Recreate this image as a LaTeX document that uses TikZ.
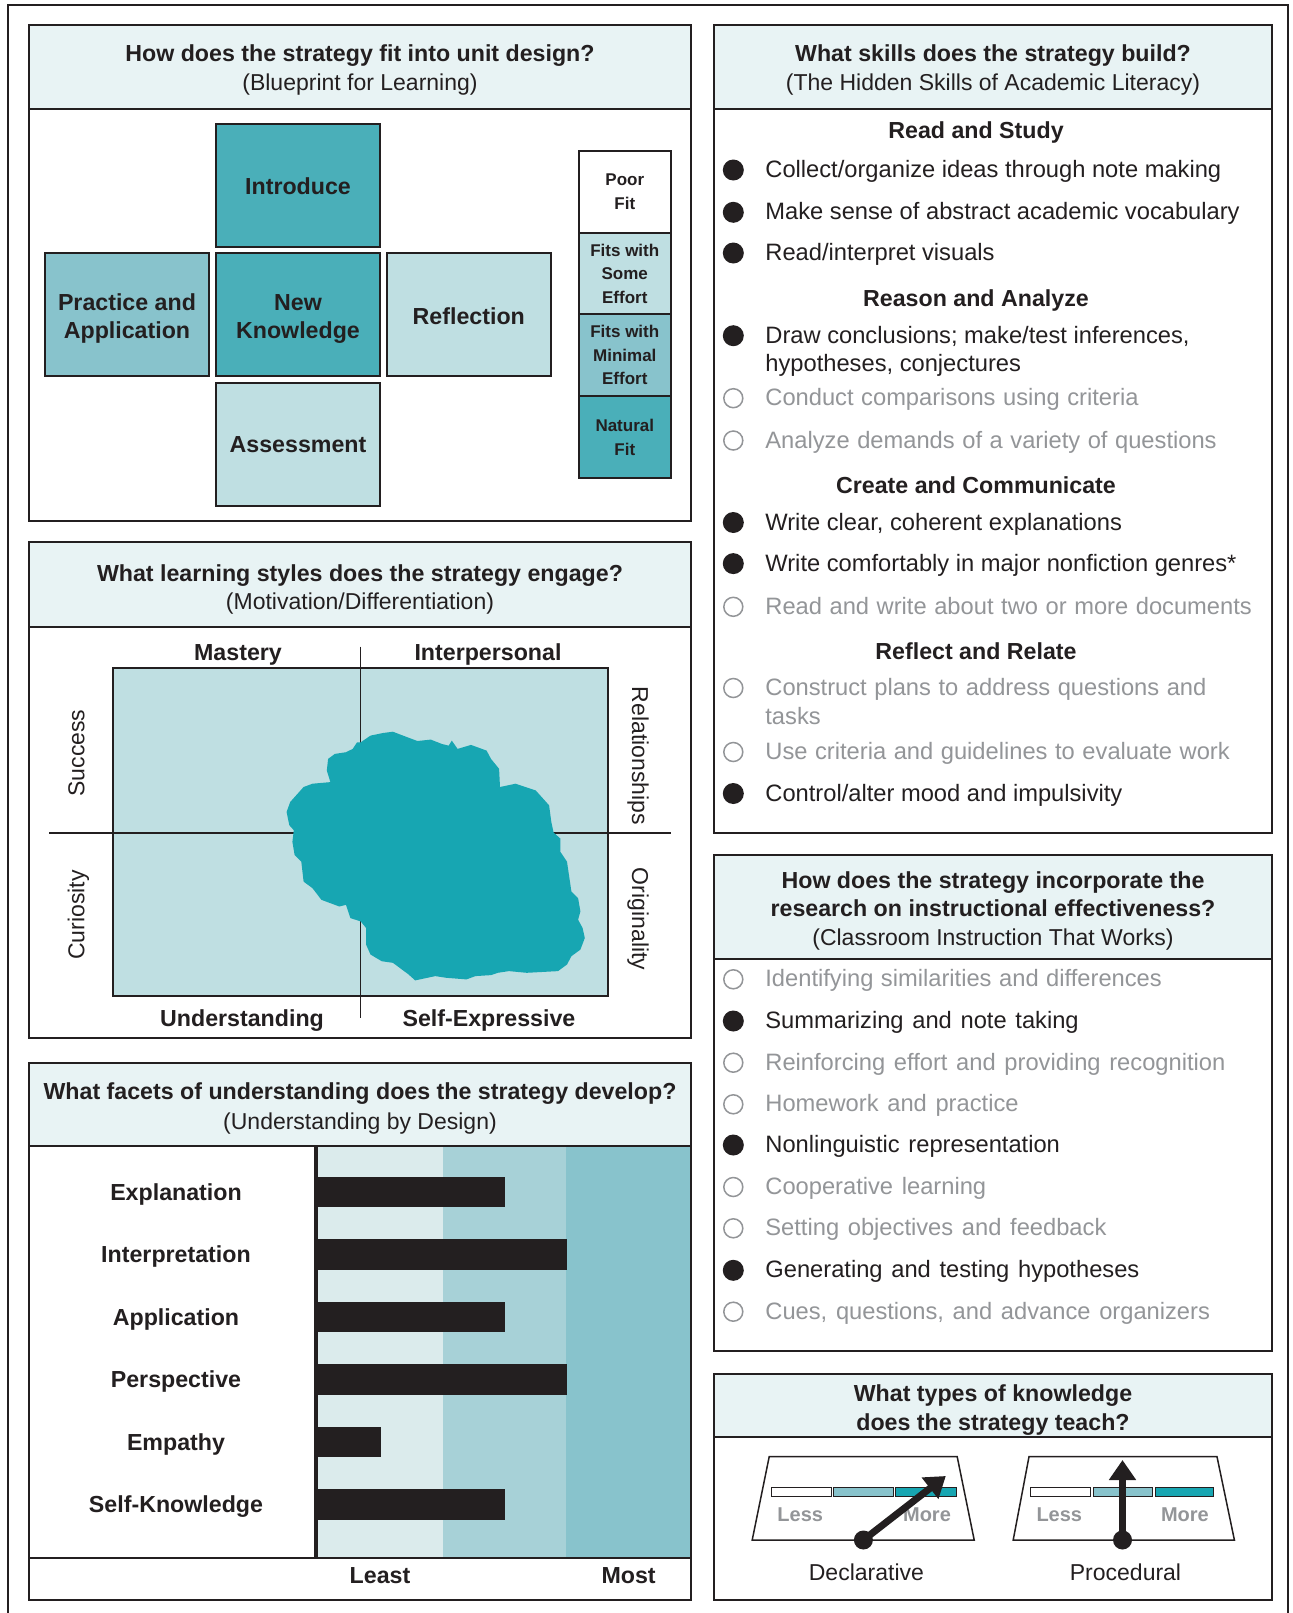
\documentclass[tikz,border=0pt]{standalone}
\usepackage{fontspec}
\setmainfont{Liberation Sans}
\newfontfamily\spacedfont[WordSpace=1.25]{Liberation Sans}
\newfontfamily\wideword[WordSpace=1.15]{Liberation Sans}
\usetikzlibrary{arrows.meta}
\definecolor{ink}{HTML}{231F20}
\definecolor{hdr}{HTML}{E8F3F4}
\definecolor{tealA}{HTML}{4AAFB9}
\definecolor{tealB}{HTML}{88C3CC}
\definecolor{tealC}{HTML}{BFDFE2}
\definecolor{blobc}{HTML}{17A6B2}
\definecolor{bandA}{HTML}{DBEBEC}
\definecolor{bandB}{HTML}{A7D1D7}
\definecolor{bandC}{HTML}{88C3CC}
\definecolor{greytx}{HTML}{939598}
\tikzset{
  panel/.style={draw=ink, line width=1pt},
  ttl/.style={font=\fontsize{11.6}{14.4}\selectfont\bfseries, text=ink, anchor=base, inner sep=0},
  sub/.style={font=\fontsize{11.5}{14.4}\selectfont, text=ink, anchor=base, inner sep=0},
  item/.style={font=\fontsize{11.85}{14.4}\selectfont, text=ink, anchor=base west, inner sep=0},
  witem/.style={font=\fontsize{11.85}{14.4}\wideword, text=ink, anchor=base west, inner sep=0},
  gitem/.style={font=\fontsize{11.85}{14.4}\spacedfont, text=greytx, anchor=base west, inner sep=0},
  onb/.style={circle, fill=ink, minimum size=10.5pt, inner sep=0},
  offb/.style={circle, draw=greytx, line width=0.75pt, minimum size=9.5pt, inner sep=0},
  bp/.style={draw=ink, line width=1pt, minimum width=82pt, minimum height=61.5pt, inner sep=0},
  bptext/.style={font=\fontsize{11.6}{14.4}\selectfont\bfseries, text=ink, anchor=base, inner sep=0},
  lg/.style={draw=ink, line width=1pt, minimum width=46.2pt, minimum height=40.9pt, inner sep=0, align=center, font=\fontsize{8.5}{11.75}\selectfont\bfseries, text=ink},
  bar/.style={fill=ink},
  gcell/.style={draw=ink, line width=0.5pt},
  lessmore/.style={font=\fontsize{10}{12}\selectfont\bfseries, text=greytx, anchor=base, inner sep=0},
  pivot/.style={circle, fill=ink, minimum size=9.5pt, inner sep=0},
  needle/.style={draw=ink, line width=3.5pt, -{Triangle[length=10pt,width=13pt]}}
}
\begin{document}
\begin{tikzpicture}[x=0.5pt,y=-0.5pt]
\useasboundingbox (0,0) rectangle (1293,1613);
\fill[white] (0,0) rectangle (1293,1613);
\draw[line width=1pt, ink] (8,1613) -- (8,5) -- (1288,5) -- (1288,1613);

% ---------- Panel 1: Blueprint ----------
\fill[hdr] (29,25.4) rectangle (691,109);
\draw[panel] (29,109) -- (691,109);
\draw[panel] (29,25.4) rectangle (691,520.6);
\node[ttl] (p1t) at (360,61.7) {How does the strategy fit into unit design?};
\node[sub] (p1s) at (360,90.3) {(Blueprint for Learning)};
\node[bp, fill=tealA] (intro) at (298,185.5) {};
\node[bp, fill=tealB] (prac) at (127,314.75) {};
\node[bp, fill=tealA] (newk) at (298,314.75) {};
\node[bp, fill=tealC] (refl) at (468.8,314.75) {};
\node[bp, fill=tealC] (asse) at (298,444.5) {};
\node[bptext] (introT) at (298,194.5) {Introduce};
\node[bptext] (pracT1) at (127,310) {Practice and};
\node[bptext] (pracT2) at (127,338.5) {Application};
\node[bptext] (newkT1) at (298,310) {New};
\node[bptext] (newkT2) at (298,338.5) {Knowledge};
\node[bptext] (reflT) at (468.8,324.3) {Reflection};
\node[bptext] (asseT) at (298,452.9) {Assessment};
\node[lg, fill=white] (lg1) at (624.8,191.7) {Poor\\Fit};
\node[lg, fill=tealC] (lg2) at (624.8,273.5) {Fits with\\Some\\Effort};
\node[lg, fill=tealB] (lg3) at (624.8,355.3) {Fits with\\Minimal\\Effort};
\node[lg, fill=tealA] (lg4) at (624.8,437.3) {Natural\\Fit};

% ---------- Panel 2: Learning styles ----------
\fill[hdr] (29,542.3) rectangle (691,627.2);
\draw[panel] (29,627.2) -- (691,627.2);
\draw[panel] (29,542.3) rectangle (691,1037.5);
\node[ttl] (p2t) at (360,581.3) {What learning styles does the strategy engage?};
\node[sub] (p2s) at (360,609.6) {(Motivation/Differentiation)};
\fill[tealC] (112.5,668.3) rectangle (608,996);
\draw[ink, line width=1pt] (112.5,668.3) rectangle (608,996);
\draw[ink, line width=0.75pt] (360.7,646.7) -- (360.7,1018);
\draw[ink, line width=0.75pt] (49,833) -- (671,833);
\fill[blobc] (360.7,742.3) -- (370.5,735.6) -- (383,733) -- (392.9,731.7) -- (399.6,734.3) -- (417.4,741) -- (430.8,739.6) -- (442,744) -- (448.7,745.6) -- (451.8,740.6) -- (457.6,748.9) -- (471,744.9) -- (486.6,750.6) -- (491,758.9) -- (499.1,768.8) -- (500,787) -- (515.6,783.7) -- (535.7,790.4) -- (549.1,805.3) -- (551.3,821.9) -- (553.6,832.5) -- (560.3,838.5) -- (560.3,851.7) -- (567,861.7) -- (569.2,876.6) -- (571.4,891.5) -- (578.1,898.2) -- (580.4,911.4) -- (578.1,919.7) -- (582.6,928) -- (584.8,938) -- (580.4,949.6) -- (571.4,956.2) -- (567,964.5) -- (558,971.1) -- (526.8,972.8) -- (508.9,971.1) -- (497.8,972.8) -- (491,975.1) -- (475.4,976.1) -- (466.5,979.4) -- (446.4,977.8) -- (435.3,976.1) -- (415.2,980.4) -- (408.5,974.4) -- (392.9,962.8) -- (381.7,961.2) -- (370.5,954.5) -- (366.1,944.6) -- (366.1,928) -- (360.7,921.4) -- (350.4,918.1) -- (346,904.8) -- (339.3,906.5) -- (321.4,899.8) -- (312.5,888.2) -- (303.6,881.6) -- (301.3,861.7) -- (294.6,855) -- (292.4,841.8) -- (293.8,830.2) -- (289.3,825.2) -- (286.6,811.9) -- (290.2,802) -- (303.6,787) -- (312.5,783.7) -- (330.4,782.1) -- (326.8,770.5) -- (328.1,758.9) -- (334.8,753.9) -- (346,752.2) -- (352.7,748.9) -- (357.1,742.3) -- cycle;
\node[ttl] (mast) at (238,660.3) {Mastery};
\node[ttl] (inter) at (488,660.3) {Interpersonal};
\node[ttl] (under) at (242,1026) {Understanding};
\node[ttl] (selfx) at (489,1026) {Self-Expressive};
\node[sub, rotate=90] (succ) at (84.3,753) {Success};
\node[sub, rotate=90] (curi) at (84.3,915) {Curiosity};
\node[sub, rotate=-90] (rela) at (632,756) {Relationships};
\node[sub, rotate=-90] (orig) at (632,919) {Originality};

% ---------- Panel 3: Facets ----------
\fill[hdr] (29,1062.6) rectangle (691,1146);
\fill[bandA] (316,1146) rectangle (443,1558);
\fill[bandB] (443,1146) rectangle (566,1558);
\fill[bandC] (566,1146) rectangle (691,1558);
\fill[bar] (316,1176.7) rectangle (505,1207.3);
\fill[bar] (316,1239.2) rectangle (567,1269.8);
\fill[bar] (316,1301.7) rectangle (505,1332.3);
\fill[bar] (316,1364.2) rectangle (567,1394.8);
\fill[bar] (316,1426.7) rectangle (380.5,1457.3);
\fill[bar] (316,1489.2) rectangle (505,1519.8);
\draw[ink, line width=2pt] (316,1146) -- (316,1558);
\draw[panel] (29,1146) -- (691,1146);
\draw[panel] (29,1558) -- (691,1558);
\draw[panel] (29,1062.6) rectangle (691,1600);
\node[ttl] (p3t) at (360,1099.3) {What facets of understanding does the strategy develop?};
\node[sub] (p3s) at (360,1129) {(Understanding by Design)};
\node[ttl] (f1) at (176,1200.3) {Explanation};
\node[ttl] (f2) at (176,1262.8) {Interpretation};
\node[ttl] (f3) at (176,1325.3) {Application};
\node[ttl] (f4) at (176,1387.8) {Perspective};
\node[ttl] (f5) at (176,1450.3) {Empathy};
\node[ttl] (f6) at (176,1512.8) {Self-Knowledge};
\node[ttl] (least) at (380,1583.3) {Least};
\node[ttl] (most) at (628.6,1583.3) {Most};

% ---------- Panel 4: Skills ----------
\fill[hdr] (714.4,25.4) rectangle (1272,109);
\draw[panel] (714.4,109) -- (1272,109);
\draw[panel] (714.4,25.4) rectangle (1272,832.7);
\node[ttl] (p4t) at (993,61.7) {What skills does the strategy build?};
\node[sub] (p4s) at (993,90.5) {(The Hidden Skills of Academic Literacy)};
\node[ttl] (h1) at (976,138.5) {Read and Study};
\node[onb] (b1) at (733.3,170) {};
\node[item] (s1) at (765,177.5) {Collect/organize ideas through note making};
\node[onb] (b2) at (733.3,212.3) {};
\node[item] (s2) at (765,219.8) {Make sense of abstract academic vocabulary};
\node[onb] (b3) at (733.3,253) {};
\node[item] (s3) at (765,260.5) {Read/interpret visuals};
\node[ttl] (h2) at (976,306.5) {Reason and Analyze};
\node[onb] (b4) at (733.3,335.7) {};
\node[item] (s4) at (765,343.2) {Draw conclusions; make/test inferences,};
\node[item] (s4b) at (765,371.9) {hypotheses, conjectures};
\node[offb] (b5) at (733.3,398.2) {};
\node[gitem] (s5) at (765,405.7) {Conduct comparisons using criteria};
\node[offb] (b6) at (733.3,440.5) {};
\node[gitem] (s6) at (765,448) {Analyze demands of a variety of questions};
\node[ttl] (h3) at (976,493.3) {Create and Communicate};
\node[onb] (b7) at (733.3,522.5) {};
\node[item] (s7) at (765,530) {Write clear, coherent explanations};
\node[onb] (b8) at (733.3,563.6) {};
\node[item] (s8) at (765,571.1) {Write comfortably in major nonfiction genres*};
\node[offb] (b9) at (733.3,606.8) {};
\node[gitem] (s9) at (765,614.3) {Read and write about two or more documents};
\node[ttl] (h4) at (976,659.3) {Reflect and Relate};
\node[offb] (b10) at (733.3,688) {};
\node[gitem] (s10) at (765,695.5) {Construct plans to address questions and};
\node[gitem] (s10b) at (765,724.5) {tasks};
\node[offb] (b11) at (733.3,752) {};
\node[gitem] (s11) at (765,759.5) {Use criteria and guidelines to evaluate work};
\node[onb] (b12) at (733.3,793.5) {};
\node[item] (s12) at (765,801) {Control/alter mood and impulsivity};

% ---------- Panel 5: CITW ----------
\fill[hdr] (714.4,855) rectangle (1272,959);
\draw[panel] (714.4,959) -- (1272,959);
\draw[panel] (714.4,855) rectangle (1272,1350.6);
\node[ttl] (p5t) at (993,888.3) {How does the strategy incorporate the};
\node[ttl] (p5u) at (993,916.6) {research on instructional effectiveness?};
\node[sub] (p5s) at (993,945.6) {(Classroom Instruction That Works)};
\node[offb] (c1) at (733.3,979.3) {};
\node[gitem] (r1) at (765,986.8) {Identifying similarities and differences};
\node[onb] (c2) at (733.3,1021) {};
\node[witem] (r2) at (765,1028.5) {Summarizing and note taking};
\node[offb] (c3) at (733.3,1062.7) {};
\node[gitem] (r3) at (765,1070.2) {Reinforcing effort and providing recognition};
\node[offb] (c4) at (733.3,1104.3) {};
\node[gitem] (r4) at (765,1111.8) {Homework and practice};
\node[onb] (c5) at (733.3,1145) {};
\node[witem] (r5) at (765,1152.5) {Nonlinguistic representation};
\node[offb] (c6) at (733.3,1187) {};
\node[gitem] (r6) at (765,1194.5) {Cooperative learning};
\node[offb] (c7) at (733.3,1228.3) {};
\node[gitem] (r7) at (765,1235.8) {Setting objectives and feedback};
\node[onb] (c8) at (733.3,1270.3) {};
\node[witem] (r8) at (765,1277.8) {Generating and testing hypotheses};
\node[offb] (c9) at (733.3,1311.7) {};
\node[gitem] (r9) at (765,1319.2) {Cues, questions, and advance organizers};

% ---------- Panel 6: Knowledge types ----------
\fill[hdr] (714.4,1374) rectangle (1272,1436.7);
\draw[panel] (714.4,1436.7) -- (1272,1436.7);
\draw[panel] (714.4,1374) rectangle (1272,1600);
\node[ttl] (p6t) at (993,1401.6) {What types of knowledge};
\node[ttl] (p6u) at (993,1430) {does the strategy teach?};
% gauge 1
\draw[ink, line width=0.75pt] (769.2,1456.7) -- (957.2,1456.7) -- (974.2,1540) -- (752.2,1540) -- cycle;
\draw[gcell, fill=white] (771.2,1487.7) rectangle (831.2,1496.7);
\draw[gcell, fill=tealB] (833.2,1487.7) rectangle (893.6,1496.7);
\draw[gcell, fill=blobc] (895.5,1487.7) rectangle (956,1496.7);
\node[lessmore] (less1) at (800.2,1521.2) {Less};
\node[lessmore] (more1) at (927,1521.2) {More};
\node[pivot] (piv1) at (863.4,1540) {};
\coordinate (tip1) at (945.8,1476);
\draw[needle] (piv1.center) -- (tip1);
\node[sub] (decl) at (866.4,1580) {Declarative};
% gauge 2
\draw[ink, line width=0.75pt] (1029,1456.7) -- (1217,1456.7) -- (1234.4,1540) -- (1013.2,1540) -- cycle;
\draw[gcell, fill=white] (1030.2,1487.7) rectangle (1090.3,1496.7);
\draw[gcell, fill=tealB] (1093.3,1487.7) rectangle (1152.7,1496.7);
\draw[gcell, fill=blobc] (1155.4,1487.7) rectangle (1213.2,1496.7);
\node[lessmore] (less2) at (1059.3,1521.2) {Less};
\node[lessmore] (more2) at (1184.9,1521.2) {More};
\node[pivot] (piv2) at (1122.5,1540) {};
\coordinate (tip2) at (1122.5,1460);
\draw[needle] (piv2.center) -- (tip2);
\node[sub] (proc) at (1125.5,1580) {Procedural};
\end{tikzpicture}
\end{document}
